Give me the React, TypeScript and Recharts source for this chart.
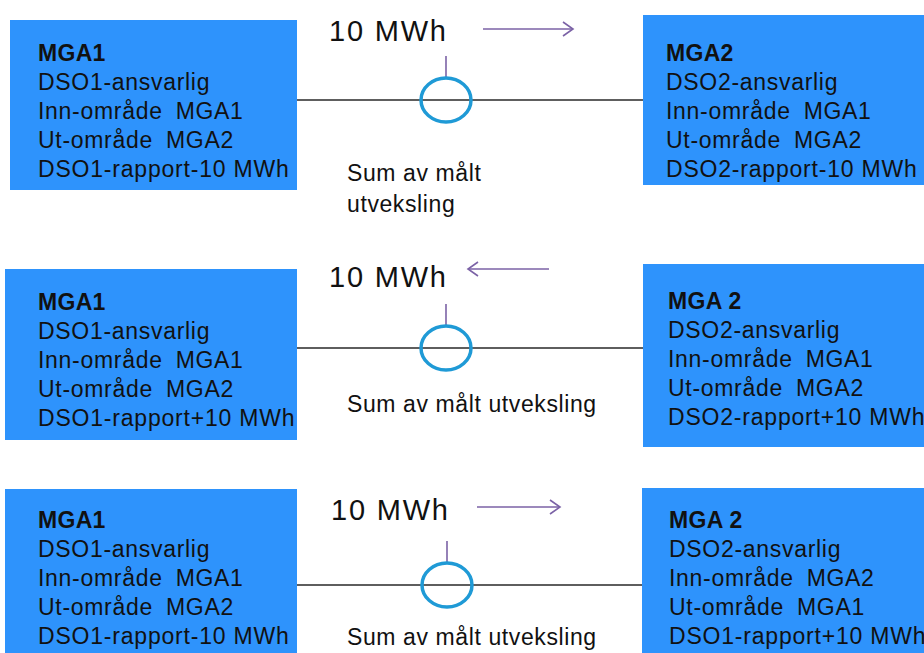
import { ComposedChart, XAxis, YAxis, ReferenceArea, Line, Scatter } from 'recharts'

// --- content, one entry per row (top to bottom) ---
const leftTitles = ['MGA1', 'MGA1', 'MGA1']
const leftResponsible = ['DSO1-ansvarlig', 'DSO1-ansvarlig', 'DSO1-ansvarlig']
const leftInArea = ['MGA1', 'MGA1', 'MGA1']
const leftOutArea = ['MGA2', 'MGA2', 'MGA2']
const leftReport = ['DSO1-rapport-10 MWh', 'DSO1-rapport+10 MWh', 'DSO1-rapport-10 MWh']

const rightTitles = ['MGA2', 'MGA 2', 'MGA 2']
const rightResponsible = ['DSO2-ansvarlig', 'DSO2-ansvarlig', 'DSO2-ansvarlig']
const rightInArea = ['MGA1', 'MGA1', 'MGA2']
const rightOutArea = ['MGA2', 'MGA2', 'MGA1']
const rightReport = ['DSO2-rapport-10 MWh', 'DSO2-rapport+10 MWh', 'DSO1-rapport+10 MWh']

const flowAmount = ['10 MWh', '10 MWh', '10 MWh']
const flowDirection = ['right', 'left', 'right']
const captions = [['Sum av målt', 'utveksling'], ['Sum av målt utveksling'], ['Sum av målt utveksling']]

// --- layout in diagram units (x 0..924, y 0..653, y down) ---
const W = 924
const H = 653
const lineY = [100, 348, 585]
const leftBox = [
  { x1: 10, x2: 297, y1: 20, y2: 190 },
  { x1: 5, x2: 297, y1: 269, y2: 440 },
  { x1: 5, x2: 297, y1: 489, y2: 653 },
]
const rightBox = [
  { x1: 643, x2: 924, y1: 15, y2: 185 },
  { x1: 643, x2: 924, y1: 264, y2: 447 },
  { x1: 642, x2: 924, y1: 488, y2: 653 },
]
const leftTextX = [38, 38, 38]
const leftTextY = [61, 310, 528]
const rightTextX = [666, 668, 669]
const rightTextY = [61, 309, 528]
const meterX = [446, 446, 447]
const amountX = [329, 329, 331]
const amountY = [41, 287, 520]
const arrowFrom = [483, 549, 477]
const arrowTo = [573, 468, 560]
const arrowY = [29, 269, 507]
const captionX = 347
const captionY = [181, 412, 645]
const STEP = 29

const BLUE = '#2e93fc'
const PURPLE = '#7b62a6'
const FONT = '"Liberation Sans", Arial, sans-serif'

type TextPt = { x: number; y: number; text: string; value?: string; size: number; bold?: boolean; ls: number }

const texts: TextPt[] = []
for (let r = 0; r < 3; r++) {
  const boxes = [
    { x: leftTextX[r], y: leftTextY[r], t: leftTitles[r], resp: leftResponsible[r], inn: leftInArea[r], ut: leftOutArea[r], rep: leftReport[r] },
    { x: rightTextX[r], y: rightTextY[r], t: rightTitles[r], resp: rightResponsible[r], inn: rightInArea[r], ut: rightOutArea[r], rep: rightReport[r] },
  ]
  boxes.forEach((b) => {
    texts.push({ x: b.x, y: b.y, text: b.t, size: 23, bold: true, ls: 0.3 })
    texts.push({ x: b.x, y: b.y + STEP, text: b.resp, size: 23, ls: 0.7 })
    texts.push({ x: b.x, y: b.y + STEP * 2, text: 'Inn-område', value: b.inn, size: 23, ls: 0.7 })
    texts.push({ x: b.x, y: b.y + STEP * 3, text: 'Ut-område', value: b.ut, size: 23, ls: 0.7 })
    texts.push({ x: b.x, y: b.y + STEP * 4, text: b.rep, size: 23, ls: 0.8 })
  })
  texts.push({ x: amountX[r], y: amountY[r], text: flowAmount[r], size: 29, ls: 1.8 })
  captions[r].forEach((c, i) => texts.push({ x: captionX, y: captionY[r] + i * 31, text: c, size: 23, ls: 0.6 }))
}

const meters = lineY.map((y, r) => ({ x: meterX[r], y }))

const renderText = (p: any) => {
  const d = p.payload as TextPt
  return (
    <text x={p.cx} y={p.cy} fontFamily={FONT} fontSize={d.size} fontWeight={d.bold ? 700 : 400} letterSpacing={d.ls} fill="#111">
      {d.text}
      {d.value ? <tspan dx={13}>{d.value}</tspan> : null}
    </text>
  )
}

const renderMeter = (p: any) => (
  <ellipse cx={p.cx} cy={p.cy} rx={25} ry={22} fill="none" stroke="#1f9ad6" strokeWidth={3.5} />
)

export default function App() {
  return (
    <div style={{ position: 'absolute', left: 0, top: 0, background: '#fff' }}>
      <ComposedChart width={W} height={H} margin={{ top: 0, right: 0, bottom: 0, left: 0 }}>
        <XAxis type="number" dataKey="x" domain={[0, W]} hide allowDataOverflow />
        <YAxis type="number" dataKey="y" domain={[0, H]} reversed hide allowDataOverflow />
        {leftBox.concat(rightBox).map((b, i) => (
          <ReferenceArea key={'box' + i} x1={b.x1} x2={b.x2} y1={b.y1} y2={b.y2} fill={BLUE} fillOpacity={1} stroke="none" ifOverflow="visible" />
        ))}
        {lineY.map((y, r) => (
          <Line
            key={'wire' + r}
            data={[{ x: leftBox[r].x2, y }, { x: rightBox[r].x1, y }]}
            dataKey="y"
            stroke="#5e5e5e"
            strokeWidth={2}
            dot={false}
            isAnimationActive={false}
          />
        ))}
        {lineY.map((y, r) => (
          <Line
            key={'tick' + r}
            data={[{ x: meterX[r], y: y - 44 }, { x: meterX[r], y: y - 23 }]}
            dataKey="y"
            stroke={PURPLE}
            strokeWidth={1.6}
            dot={false}
            isAnimationActive={false}
          />
        ))}
        {arrowY.map((y, r) => (
          <Line
            key={'shaft' + r}
            data={[{ x: arrowFrom[r], y }, { x: arrowTo[r], y }]}
            dataKey="y"
            stroke={PURPLE}
            strokeWidth={1.6}
            dot={false}
            isAnimationActive={false}
          />
        ))}
        {arrowY.map((y, r) => {
          const back = flowDirection[r] === 'right' ? -10 : 10
          return (
            <Line
              key={'head' + r}
              data={[{ x: arrowTo[r] + back, y: y - 7 }, { x: arrowTo[r], y }, { x: arrowTo[r] + back, y: y + 7 }]}
              dataKey="y"
              stroke={PURPLE}
              strokeWidth={1.6}
              dot={false}
              isAnimationActive={false}
            />
          )
        })}
        <Scatter data={meters} dataKey="y" shape={renderMeter} isAnimationActive={false} />
        <Scatter data={texts} dataKey="y" shape={renderText} isAnimationActive={false} />
      </ComposedChart>
    </div>
  )
}
